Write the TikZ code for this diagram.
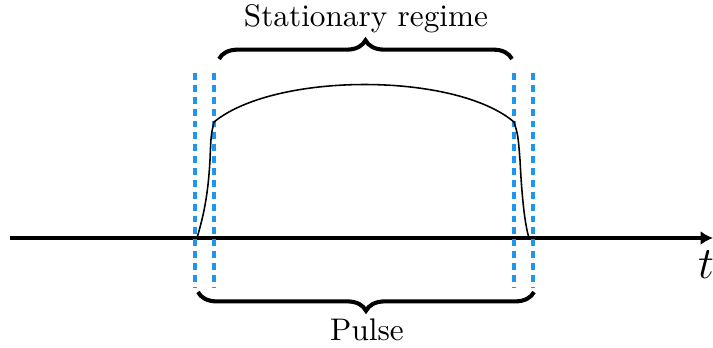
\documentclass[tikz,border=0pt]{standalone}
\usepackage{amsmath}
\usepackage{tikz}
\usetikzlibrary{arrows.meta,decorations.pathreplacing,calc}
\definecolor{azulPulso}{RGB}{30,150,240}

\begin{document}
\begin{tikzpicture}[
      x=0.32pt, y=-0.32pt,
      axis/.style  = {-{Latex[length=4pt,width=4.5pt]}, line width=1pt},
      limit/.style = {azulPulso, line width=1pt, dash pattern=on 2.2pt off 1.6pt},
      pulse/.style = {black, line width=0.5pt},
      llave/.style = {decorate, decoration={brace,amplitude=6pt}, line width=1.3pt},
      lbl/.style   = {align=center},
    ]
    \useasboundingbox (0,0) rectangle (713,347);

    % ── Eje temporal ─────────────────────────────────────────────
    \coordinate (t0) at (10,238);
    \coordinate (t1) at (713,238);
    \draw[axis] (t0) -- (t1);
    \node[font=\Large] (t) at (706,265) {$t$};

    % ── Limites (subida / bajada) ────────────────────────────────
    \foreach \x/\n in {195/a,214/b,514/c,533/d}{
      \coordinate (\n top) at (\x,73);
      \coordinate (\n bot) at (\x,288);
      \draw[limit] (\n top) -- (\n bot);
    }

    % ── Pulso ────────────────────────────────────────────────────
    \draw[pulse] (197,238) .. controls (204,214) and (208,195) .. (210,160)
                 .. controls (211,135) .. (214,122)
                 .. controls (275,72) and (455,72) .. (514,122)
                 .. controls (518,135) .. (520,160)
                 .. controls (522,200) and (525,225) .. (529,238);

    % ── Llaves ───────────────────────────────────────────────────
    \coordinate (s0) at (219,59);
    \coordinate (s1) at (512,59);
    \draw[llave] (s0) -- (s1);
    \node[lbl] (stat) at (366,19) {Stationary regime};

    \coordinate (p0) at (534,292);
    \coordinate (p1) at (198,292);
    \draw[llave] (p0) -- (p1);
    \node[lbl] (pulse) at (367,330) {Pulse};

  \end{tikzpicture}
\end{document}
